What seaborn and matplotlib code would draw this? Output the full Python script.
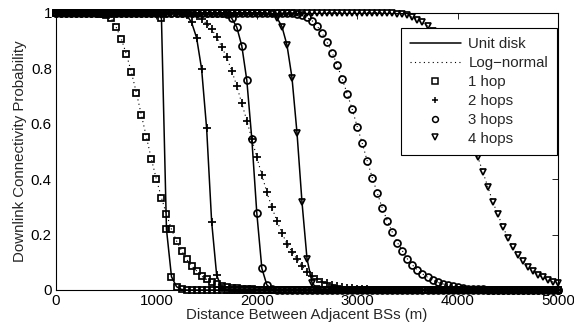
import matplotlib
matplotlib.use("Agg")
import matplotlib.pyplot as plt
from matplotlib.lines import Line2D
import seaborn as sns

# Distance between adjacent BSs (m), sampled every 50 m
distance = list(range(0, 5001, 50))

# Downlink connectivity probability
unit_1hop = [1.0] * 21 + [0.98, 0.219, 0.048, 0.012, 0.002] + [0.0] * 75
logn_1hop = ([1.0] * 9 +
             [0.997, 0.992, 0.98, 0.947, 0.906, 0.851, 0.786, 0.712, 0.631, 0.552,
              0.472, 0.399, 0.333, 0.273, 0.219, 0.177, 0.142, 0.111, 0.087, 0.069,
              0.05, 0.038, 0.029, 0.021, 0.015, 0.011, 0.008, 0.006, 0.004, 0.003,
              0.002, 0.001] +
             [0.0] * 60)

unit_2hop = [1.0] * 26 + [0.992, 0.965, 0.91, 0.797, 0.583, 0.246, 0.053, 0.008, 0.001] + [0.0] * 66
logn_2hop = ([1.0] * 26 +
             [0.998, 0.994, 0.988, 0.977, 0.96, 0.941, 0.912, 0.877, 0.839, 0.791,
              0.736, 0.673, 0.611, 0.545, 0.478, 0.415, 0.352, 0.298, 0.249, 0.206,
              0.166, 0.138, 0.111, 0.087, 0.066, 0.05, 0.039, 0.03, 0.024, 0.019,
              0.014, 0.011, 0.008, 0.006, 0.004, 0.003, 0.002, 0.001] +
             [0.0] * 37)

unit_3hop = [1.0] * 34 + [0.995, 0.98, 0.948, 0.881, 0.757, 0.545, 0.276, 0.078, 0.018, 0.003] + [0.0] * 57
logn_3hop = ([1.0] * 46 +
             [0.999, 0.998, 0.997, 0.993, 0.983, 0.971, 0.952, 0.926, 0.893, 0.856,
              0.811, 0.761, 0.708, 0.652, 0.589, 0.529, 0.465, 0.405, 0.349, 0.295,
              0.249, 0.208, 0.171, 0.141, 0.112, 0.09, 0.072, 0.058, 0.046, 0.036,
              0.028, 0.022, 0.017, 0.013, 0.01, 0.007, 0.005, 0.004, 0.003, 0.002,
              0.001] +
             [0.0] * 14)

unit_4hop = [1.0] * 42 + [0.998, 0.994, 0.982, 0.95, 0.884, 0.766, 0.567, 0.316, 0.112, 0.026, 0.004] + [0.0] * 48
logn_4hop = ([1.0] * 66 +
             [0.999, 0.998, 0.997, 0.995, 0.992, 0.983, 0.975, 0.965, 0.952, 0.935,
              0.912, 0.88, 0.84, 0.79, 0.733, 0.67, 0.604, 0.54, 0.481, 0.427,
              0.373, 0.318, 0.273, 0.228, 0.189, 0.154, 0.126, 0.105, 0.084, 0.069,
              0.054, 0.046, 0.036, 0.029, 0.024])

hop_labels = ['1 hop', '2 hops', '3 hops', '4 hops']
hop_markers = ['s', '+', 'o', 'v']
unit_series = [unit_1hop, unit_2hop, unit_3hop, unit_4hop]
logn_series = [logn_1hop, logn_2hop, logn_3hop, logn_4hop]

sns.set_style("white")
plt.rcParams['font.family'] = ['Liberation Sans', 'DejaVu Sans']
fs = 10.8

fig = plt.figure(figsize=(5.74, 3.31), dpi=100)
ax = fig.add_axes([0.0976, 0.1239, 0.8746, 0.8377])

sizes = {'s': 4.6, '+': 5.4, 'o': 5.0, 'v': 5.0}
mew = 1.25
for marker, unit, logn in zip(hop_markers, unit_series, logn_series):
    sns.lineplot(x=distance, y=unit, ax=ax, color='k', linewidth=1.1, linestyle='-',
                 marker=marker, markersize=sizes[marker], markerfacecolor='none',
                 markeredgecolor='k', markeredgewidth=mew, clip_on=False)
    sns.lineplot(x=distance, y=logn, ax=ax, color='k', linewidth=0.8, linestyle=(0, (1, 3)),
                 marker=marker, markersize=sizes[marker], markerfacecolor='none',
                 markeredgecolor='k', markeredgewidth=mew, clip_on=False)

ax.set_xlim(0, 5000)
ax.set_ylim(0, 1)
ax.set_xticks([0, 1000, 2000, 3000, 4000, 5000])
ax.set_yticks([0, 0.2, 0.4, 0.6, 0.8, 1])
ax.set_yticklabels(['0', '0.2', '0.4', '0.6', '0.8', '1'])
ax.tick_params(direction='in', length=4, width=0.6, top=True, right=True,
               labelsize=fs, colors='k', pad=3)
for sp in ax.spines.values():
    sp.set_color('k')
    sp.set_linewidth(0.8)
ax.set_xlabel('Distance Between Adjacent BSs (m)', fontsize=fs, labelpad=0)
ax.set_ylabel('Downlink Connectivity Probability', fontsize=fs, labelpad=3)

handles = [Line2D([], [], color='k', lw=1.1, ls='-'),
           Line2D([], [], color='k', lw=0.8, ls=(0, (1, 3)))]
for marker in hop_markers:
    handles.append(Line2D([], [], color='k', ls='none', marker=marker, markersize=4.2,
                          markerfacecolor='none', markeredgewidth=1.1))
labels = ['Unit disk', 'Log\u2212normal'] + hop_labels
leg = ax.legend(handles, labels, loc='upper right', bbox_to_anchor=(0.998, 0.945),
                borderaxespad=0, fontsize=fs, frameon=True, fancybox=False,
                framealpha=1, edgecolor='k', handlelength=3.4, handletextpad=0.5,
                labelspacing=0.33, borderpad=0.6)
leg.get_frame().set_linewidth(0.8)
leg.set_zorder(5)

fig.savefig('out.png', dpi=100)
